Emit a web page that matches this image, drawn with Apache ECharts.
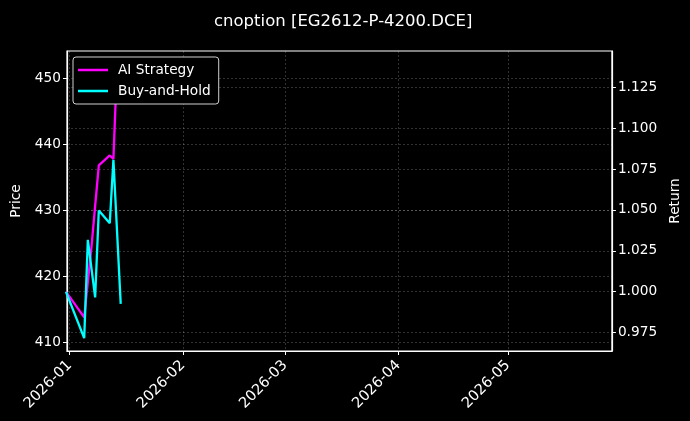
<!DOCTYPE html>
<html>
<head>
<meta charset="utf-8">
<script src="https://cdn.jsdelivr.net/npm/echarts@6/dist/echarts.min.js"></script>
<style>
html,body{margin:0;padding:0;background:#000;}
#c{width:690px;height:421px;}
</style>
</head>
<body>
<div id="c"></div>
<script>
// ---- data ----
const titleText = 'cnoption [EG2612-P-4200.DCE]';
const aiDates = ['2025-12-31','2026-01-05','2026-01-07','2026-01-09','2026-01-12','2026-01-13','2026-01-14','2026-01-15'];
const aiValues = [1.000, 0.9843, 1.0276, 1.0772, 1.0833, 1.0812, 1.1389, 1.132];
const bhDates = ['2025-12-31','2026-01-05','2026-01-06','2026-01-08','2026-01-09','2026-01-12','2026-01-13','2026-01-15'];
const bhValues = [1.000, 0.9716, 1.0317, 0.9965, 1.0496, 1.0419, 1.0807, 0.9925];
const monthTicks = ['2026-01-01','2026-02-01','2026-03-01','2026-04-01','2026-05-01'];
const priceTicks = [410, 420, 430, 440, 450];
const returnTicks = [0.975, 1.000, 1.025, 1.050, 1.075, 1.100, 1.125];
const priceRange = [408.63, 454.15];
const returnRange = [0.9637, 1.1472];
const xRange = ['2025-12-31T07:00:00', '2026-05-29T12:00:00'];

function ts(s){ const p = s.split(/[-T:]/).map(Number); return Date.UTC(p[0], p[1]-1, p[2], p[3]||0, p[4]||0, p[5]||0); }
function pad(n){ return n < 10 ? '0'+n : ''+n; }

const font = 'DejaVu Sans';
const fs = 13.7;
const gridLine = {show:true, lineStyle:{color:'rgba(255,255,255,0.28)', width:0.7, type:[2,2]}};

const chart = echarts.init(document.getElementById('c'), null, {renderer:'canvas'});
chart.setOption({
  backgroundColor:'#000',
  animation:false,
  textStyle:{fontFamily:font},
  title:{text:titleText, left:209, top:8,
    textStyle:{color:'#fff', fontSize:16.5, fontWeight:'normal', fontFamily:font}},
  grid:{left:67, right:75, top:51, bottom:70, show:true, borderColor:'#fff', borderWidth:1.2, backgroundColor:'transparent'},
  legend:{
    orient:'vertical', left:73, top:57,
    data:['AI Strategy','Buy-and-Hold'],
    backgroundColor:'#000', borderColor:'#d0d0d0', borderWidth:1, borderRadius:3,
    padding:[6,8,6,5], itemGap:7, itemWidth:30, itemHeight:2.5, icon:'rect',
    textStyle:{color:'#fff', fontSize:fs, fontFamily:font, padding:[0,0,0,5]}
  },
  xAxis:{
    type:'value', min:ts(xRange[0]), max:ts(xRange[1]),
    axisLine:{show:true, onZero:false, lineStyle:{color:'#fff', width:1.2}},
    axisTick:{show:true, length:4, lineStyle:{color:'#fff'}, customValues:monthTicks.map(ts)},
    axisLabel:{color:'#fff', fontSize:14.6, fontFamily:font, rotate:45, margin:12,
      customValues:monthTicks.map(ts),
      formatter:function(v){ const d = new Date(v); return d.getUTCFullYear()+'-'+pad(d.getUTCMonth()+1); }},
    splitLine:gridLine
  },
  yAxis:[
    {type:'value', position:'left', min:priceRange[0], max:priceRange[1],
     name:'Price', nameLocation:'middle', nameGap:44,
     nameTextStyle:{color:'#fff', fontSize:fs, fontFamily:font},
     axisLine:{show:true, lineStyle:{color:'#fff', width:1.2}},
     axisTick:{show:true, length:4, lineStyle:{color:'#fff'}, customValues:priceTicks},
     axisLabel:{color:'#fff', fontSize:fs, fontFamily:font, margin:6, customValues:priceTicks},
     splitLine:gridLine},
    {type:'value', position:'right', min:returnRange[0], max:returnRange[1],
     name:'Return', nameLocation:'middle', nameGap:52,
     nameTextStyle:{color:'#fff', fontSize:fs, fontFamily:font},
     axisLine:{show:true, lineStyle:{color:'#fff', width:1.2}},
     axisTick:{show:true, length:4, lineStyle:{color:'#fff'}, customValues:returnTicks},
     axisLabel:{color:'#fff', fontSize:fs, fontFamily:font, margin:6, customValues:returnTicks,
       formatter:function(v){ return v.toFixed(3); }},
     splitLine:gridLine}
  ],
  series:[
    {name:'AI Strategy', type:'line', yAxisIndex:1, showSymbol:false, symbol:'none',
     itemStyle:{color:'#ff00ff'}, lineStyle:{color:'#ff00ff', width:2.3},
     data:aiDates.map((d,i)=>[ts(d), aiValues[i]]), z:3},
    {name:'Buy-and-Hold', type:'line', yAxisIndex:1, showSymbol:false, symbol:'none',
     itemStyle:{color:'#00ffff'}, lineStyle:{color:'#00ffff', width:2.3},
     data:bhDates.map((d,i)=>[ts(d), bhValues[i]]), z:4}
  ]
});
</script>
</body>
</html>
